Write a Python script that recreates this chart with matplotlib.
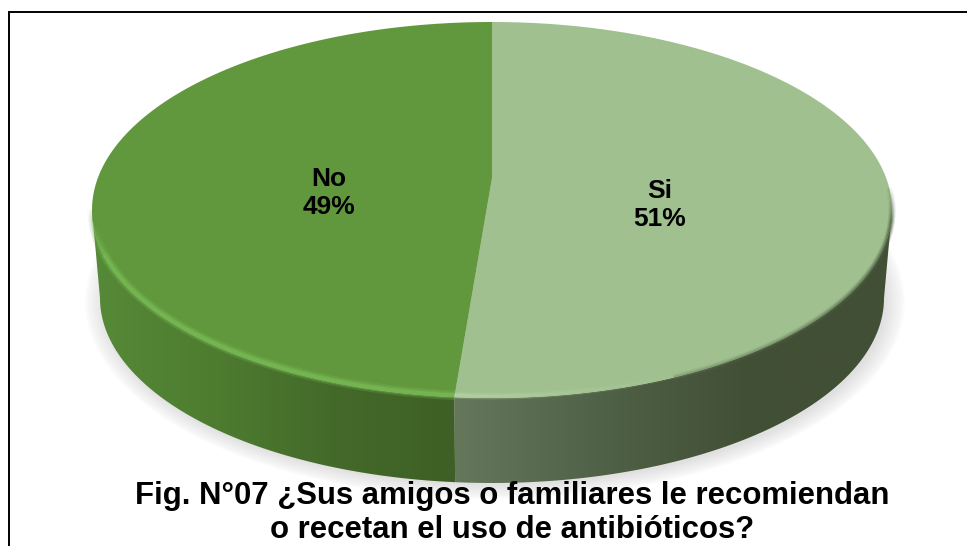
import numpy as np
import matplotlib
matplotlib.use('Agg')
import matplotlib.pyplot as plt
from matplotlib.collections import LineCollection
from matplotlib.colors import LinearSegmentedColormap, to_rgb
from matplotlib.patches import Polygon, Ellipse

plt.rcParams['font.family'] = ['Liberation Sans', 'DejaVu Sans']

# datos
categorias = ['Si', 'No']
valores = [51.5, 48.5]
etiquetas = ['51%', '49%']
titulo = 'Fig. N°07 ¿Sus amigos o familiares le recomiendan\no recetan el uso de antibióticos?'

W, H = 967, 546
fig = plt.figure(figsize=(W / 100, H / 100), dpi=100)
ax = fig.add_axes([0, 0, 1, 1])

# geometria de la torta en pixeles
cx, cy = 492, 210
rx, ry = 400, 188
vy = 178  # vertice por la perspectiva
bx, by, bry = 392, 298, 185

corte = 2 * np.pi * valores[0] / sum(valores)


def borde(t, x0=cx, y0=cy, a=rx, b=ry):
    return x0 + a * np.sin(t), y0 - b * np.cos(t)


def cuna(t0, t1):
    t = np.linspace(t0, t1, 300)
    x, y = borde(t)
    return np.column_stack([np.r_[cx, x], np.r_[vy, y]])


def lado(t0, t1):
    # de la orilla de arriba a la de abajo, pasando por el ancho maximo
    t = np.linspace(t0, t1, 200)
    x1, y1 = borde(t)
    x2, y2 = borde(t, cx, by, bx, bry)
    return np.column_stack([np.r_[x1, x2[::-1]], np.r_[y1, y2[::-1]]])


def gradiente(colores, x0, x1, clip):
    cmap = LinearSegmentedColormap.from_list('g', colores)
    im = ax.imshow(np.linspace(0, 1, 256).reshape(1, -1), cmap=cmap, aspect='auto',
                   extent=[x0, x1, 490, 200], zorder=2, interpolation='bilinear')
    im.set_clip_path(Polygon(clip, transform=ax.transData))


def brillo(t0, t1, c0, c1, a0, a1, dy=0.0, anchos=(5.0, 3.4, 1.8)):
    # trazo suave sobre la orilla, cambia de color y alfa a lo largo
    t = np.linspace(t0, t1, 160)
    x, y = borde(t)
    p = np.column_stack([x, y + dy])
    seg = np.stack([p[:-1], p[1:]], axis=1)
    f = np.linspace(0, 1, len(seg))[:, None]
    rgb = np.array(to_rgb(c0)) * (1 - f) + np.array(to_rgb(c1)) * f
    alfa = a0 + (a1 - a0) * f
    for lw, k in zip(anchos, (0.25, 0.4, 0.7)):
        ax.add_collection(LineCollection(seg, colors=np.hstack([rgb, alfa * k]), linewidths=lw,
                                         capstyle='butt', zorder=4))


# sombra suave
for i in range(14):
    ax.add_patch(Ellipse((495, 302), 2 * (bx + 18 - i * 1.5), 2 * (bry + 12 - i * 1.1),
                         fc='#777777', ec='none', alpha=0.015, zorder=1))

# lado de la torta
x_corte = borde(corte)[0]
gradiente(['#66785c', '#4f6146', '#414f35', '#414f35'], x_corte, 900, lado(np.pi / 2, corte))
gradiente(['#568a38', '#4e7d30', '#446a2a', '#3e5f25'], 85, x_corte, lado(corte, 3 * np.pi / 2))

# cara superior
ax.add_patch(Polygon(cuna(0, corte), fc='#a0c18f', ec='none', zorder=3))
ax.add_patch(Polygon(cuna(corte, 2 * np.pi), fc='#62983d', ec='none', zorder=3))

# brillo del borde
grueso = (7.0, 4.6, 2.6)
brillo(corte, 1.42 * np.pi, '#78bb55', '#78bb55', 1.0, 1.0, dy=-2, anchos=grueso)
brillo(1.42 * np.pi, 1.5 * np.pi, '#78bb55', '#6aa548', 1.0, 0.0, dy=-2, anchos=grueso)
brillo(corte, 0.8 * np.pi, '#b6d4a5', '#a0c18f', 0.9, 0.2, dy=-2)
brillo(0.85 * np.pi, 0.52 * np.pi, '#5f7553', '#4d5c41', 0.3, 0.8)
brillo(0.52 * np.pi, 0.46 * np.pi, '#4d5c41', '#7f9a70', 0.8, 0.0)

# etiquetas de datos
ax.text(660, 205, f'{categorias[0]}\n{etiquetas[0]}', ha='center', va='center', fontsize=19,
        fontweight='bold', color='black', zorder=6, linespacing=1.2)
ax.text(329, 193, f'{categorias[1]}\n{etiquetas[1]}', ha='center', va='center', fontsize=19,
        fontweight='bold', color='black', zorder=6, linespacing=1.2)

# titulo
ax.text(512, 513, titulo, ha='center', va='center', fontsize=22.4, fontweight='bold',
        color='black', zorder=7, linespacing=1.14)

# marco, solo izquierda y arriba
ax.plot([9, 9, W], [H, 12, 12], color='black', lw=1.4, zorder=8, solid_joinstyle='miter')

ax.set_xlim(0, W)
ax.set_ylim(H, 0)
ax.axis('off')
fig.savefig('out.png', dpi=100)
